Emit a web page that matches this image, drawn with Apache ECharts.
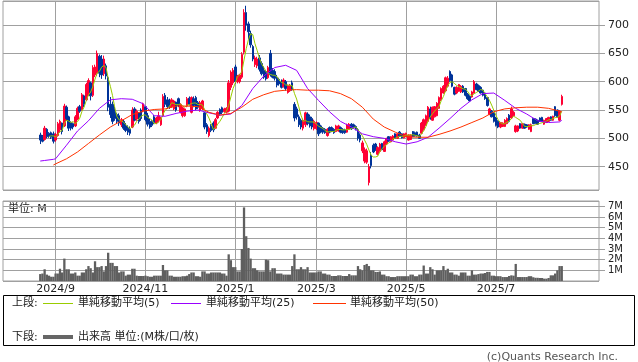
<!DOCTYPE html>
<html><head><meta charset="utf-8">
<script src="https://cdn.jsdelivr.net/npm/echarts@6/dist/echarts.min.js"></script>
<style>html,body{margin:0;padding:0;background:#fff}#c{width:638px;height:362px}</style>
</head><body><div id="c"></div>
<script>
// ---- data ----
const firstDay = '2024-08-22';
const holidays = ['2024-09-16','2024-09-23','2024-10-14','2024-11-04','2024-12-31','2025-01-01','2025-01-02','2025-01-03','2025-01-13','2025-02-11','2025-02-24','2025-03-20','2025-04-29','2025-05-05','2025-05-06','2025-07-21','2025-08-11'];
const tickLabels = ['2024/9','2024/11','2025/1','2025/3','2025/5','2025/7'];

const open = [
506,503,498,516,509,510,508,
497,505,515,527,522,555,538,528,526,522,
534,556,551,575,568,580,598,576,612,615,
645,640,614,628,607,560,560,548,542,540,
524,530,522,518,516,520,552,534,545,550,
548,556,540,530,530,538,527,532,524,540,
576,568,566,556,552,564,570,546,540,540,
557,571,546,570,572,563,549,552,545,524,
505,522,527,518,536,551,554,547,546,548,
590,598,626,600,600,608,652,722,702,685,
662,630,628,642,632,620,618,607,650,620,
618,608,604,600,591,600,581,584,598,560,
552,538,532,518,524,543,538,535,517,517,
527,522,518,516,505,519,519,516,512,513,
519,516,515,511,516,525,524,521,515,506,
478,460,458,422,470,488,490,472,477,491,
477,490,503,494,497,508,500,511,508,501,
503,497,498,512,510,511,506,509,515,523,
530,552,532,538,540,553,568,580,584,592,
618,612,590,580,583,582,592,588,578,574,
573,580,596,593,590,585,580,572,542,548,
545,536,530,520,521,521,526,541,536,540,
512,513,526,518,525,524,516,512,535,534,
532,536,537,525,528,530,538,532,556,550,
532,560];
const close = [
497,495,518,503,504,502,495,
507,526,530,512,557,535,518,518,520,538,
553,548,577,560,595,602,575,625,626,650,
615,612,640,610,555,542,530,535,530,527,
533,518,514,511,509,550,532,548,530,535,
561,533,525,520,523,528,536,540,536,574,
560,556,557,568,566,550,558,560,554,552,
570,560,572,558,552,555,563,566,520,512,
518,514,515,533,546,543,546,552,553,598,
617,620,600,610,612,648,722,700,688,665,
640,642,640,622,614,608,605,625,612,608,
606,594,596,590,603,588,593,594,586,536,
538,524,520,532,545,526,522,520,530,528,
508,511,511,510,516,511,513,510,522,522,
511,510,510,524,525,517,519,516,500,497,
492,480,478,450,452,476,480,484,490,480,
494,500,495,503,504,500,508,504,501,508,
509,506,506,503,504,504,500,527,533,540,
555,535,555,556,562,572,588,592,607,606,
602,592,578,590,595,592,582,576,570,566,
582,600,586,583,580,576,570,558,552,538,
530,523,520,528,527,532,535,530,552,546,
522,522,518,526,518,520,524,524,526,527,
525,530,530,532,535,537,532,539,540,538,
548,574];
const low = [
490,493,496,500,501,499,491,
494,503,510,507,520,531,513,514,516,520,
532,545,549,555,566,575,567,573,608,610,
608,605,610,604,548,536,525,531,526,522,
520,515,511,506,505,518,530,531,526,531,
546,530,521,517,520,525,525,528,522,538,
555,552,552,554,550,547,555,544,537,538,
555,558,544,555,550,552,547,550,516,508,
502,511,511,517,534,540,543,545,544,546,
585,594,596,597,597,605,648,690,675,660,
636,626,624,618,611,605,602,605,609,606,
602,590,593,588,590,584,579,582,584,530,
533,520,516,514,520,523,519,516,514,515,
504,509,508,508,503,509,511,508,511,512,
509,508,508,510,515,515,517,514,496,493,
474,456,455,417,447,474,478,470,475,479,
476,488,494,493,496,499,499,503,500,500,
502,496,497,502,503,503,499,508,514,522,
529,533,531,537,539,552,566,579,582,590,
600,590,576,578,582,580,580,574,568,565,
572,579,585,582,579,574,568,556,541,537,
528,521,518,518,520,520,525,528,534,539,
510,511,517,517,517,519,515,511,525,526,
524,529,529,524,527,529,531,531,538,537,
530,558];
const high = [
510,506,522,518,511,512,512,
510,529,533,528,561,558,540,530,528,541,
556,559,580,577,598,606,600,629,630,655,
648,647,646,632,610,573,565,556,545,544,
536,533,527,523,521,555,555,551,546,553,
563,557,545,535,532,541,538,547,538,578,
580,573,570,571,568,565,572,562,556,553,
573,574,574,574,575,566,566,568,546,527,
521,525,530,536,548,553,556,554,555,603,
620,624,630,612,614,652,728,734,706,690,
665,646,644,647,636,627,621,628,656,624,
622,612,607,604,606,603,595,596,602,564,
556,542,535,535,547,546,542,538,533,530,
528,524,520,518,518,521,521,518,524,524,
521,518,517,526,527,527,526,523,518,509,
496,484,482,455,476,491,492,486,492,492,
496,501,504,504,506,509,509,513,509,509,
510,507,507,513,512,512,508,529,535,542,
557,556,556,557,564,574,590,594,609,610,
620,614,591,592,596,594,594,589,580,576,
584,603,598,595,592,586,581,573,554,550,
546,538,532,529,528,534,537,543,556,548,
524,523,527,527,526,525,525,526,536,535,
533,537,538,533,536,538,539,540,557,551,
550,577];
const volume = [
0.65,0.7,1.1,0.6,0.5,0.4,0.4,
0.7,0.7,1.15,0.8,2.1,1.1,1.1,0.7,0.7,0.8,
0.5,0.5,0.8,0.8,1.1,1.4,1.2,0.8,1.85,1.3,
1.3,1.4,0.9,1.4,2.65,1.7,1.7,1.4,1.4,0.8,
0.9,0.9,0.5,0.6,0.6,1.15,1.15,0.5,0.47,0.47,
0.47,0.5,0.45,0.4,0.4,0.5,0.5,0.5,0.5,1.5,
1.0,1.0,0.5,0.5,0.4,0.4,0.4,0.4,0.45,0.45,
0.5,0.65,0.8,0.8,0.45,0.45,0.4,0.9,0.9,0.7,
0.7,0.8,0.8,0.8,0.8,0.8,0.7,0.7,0.5,2.5,
1.95,1.3,1.3,0.9,0.9,3.0,6.9,4.2,3.1,2.1,
1.2,1.2,1.0,0.9,0.9,0.9,2.0,1.95,0.9,1.2,
1.2,0.7,0.7,0.7,0.6,0.6,0.6,0.6,1.4,2.5,
1.1,1.1,1.3,1.1,1.1,1.3,0.8,0.8,0.8,0.8,
0.9,0.9,0.7,0.7,0.6,0.6,0.47,0.47,0.47,0.53,
0.53,0.47,0.47,0.47,0.65,0.53,0.53,0.53,1.4,1.1,
1.0,1.5,1.6,1.4,1.0,1.0,0.85,0.85,0.9,0.6,
0.6,0.45,0.45,0.37,0.37,0.37,0.45,0.45,0.45,0.45,
0.45,0.45,0.6,0.6,0.45,0.45,0.6,0.6,1.45,0.7,
0.7,1.3,1.1,0.6,1.0,1.0,1.0,1.4,1.0,1.15,
0.8,0.8,0.6,0.6,0.5,0.8,0.8,0.8,0.5,0.5,
1.0,0.6,0.6,0.65,0.7,0.7,0.75,0.85,0.85,0.5,
0.5,0.45,0.45,0.45,0.37,0.37,0.37,0.47,0.53,0.5,
1.6,0.37,0.37,0.37,0.37,0.37,0.45,0.45,0.35,0.3,
0.3,0.28,0.28,0.22,0.22,0.28,0.53,0.53,0.7,1.0,
1.4,1.4];
const maDays = [-7,-5,-1,0,5,10,15,20,25,30,35,40,45,50,55,60,65,70,75,80,85,90,95,100,105,110,115,120,125,130,135,140,145,150,155,160,165,170,175,180,185,190,195,200,205,210,215,220,225,230,231];
const ma25 = [460,461,463,464,488,513,531,553,568,570,569,561,540,539,544,548,550,545,541,543,558,588,610,625,629,620,588,567,547,530,520,508,503,500,494,490,494,502,518,535,553,568,579,580,567,553,543,531,528,529,532];
const ma50 = [null,null,453,455,464,476,491,506,520,531,542,548,551,552,557,557,556,546,541,544,555,569,577,583,585,586,585,585,584,579,570,555,534,520,511,503,502,502,507,513,520,528,536,547,552,554,555,555,553,548,547];

// ---- build ----
const N = close.length;
function tradingDays(start, n, hol) {
  const out = []; const d = new Date(start + 'T00:00:00Z');
  while (out.length < n) {
    const wd = d.getUTCDay(); const s = d.toISOString().slice(0, 10);
    if (wd !== 0 && wd !== 6 && hol.indexOf(s) < 0) out.push(s);
    d.setUTCDate(d.getUTCDate() + 1);
  }
  return out;
}
const dates = tradingDays(firstDay, N, holidays);
const PADL = 17, PADR = 17;
const cats = [];
for (let i = 0; i < PADL; i++) cats.push('l' + i);
dates.forEach(s => { const p = s.split('-'); cats.push(p[0] + '/' + (+p[1]) + '/' + (+p[2])); });
for (let i = 0; i < PADR; i++) cats.push('r' + i);
const labelIdx = {};
const seen = {};
cats.forEach((c, i) => {
  if (c.indexOf('/') < 0) return;
  const key = c.split('/').slice(0, 2).join('/');
  if (!seen[key]) { seen[key] = 1; if (tickLabels.indexOf(key) >= 0) labelIdx[i] = key; }
});
const showAt = (idx) => labelIdx[idx] !== undefined;
const dayZero = dates.indexOf('2024-09-02');
const pad = (arr) => { const a = []; for (let i = 0; i < PADL; i++) a.push('-'); arr.forEach(v => a.push(v)); for (let i = 0; i < PADR; i++) a.push('-'); return a; };

const candle = pad(open.map((o, i) => [o, close[i], low[i], high[i]]));
const ma5raw = close.map((c, i) => { if (i < 4) return '-'; let s = 0; for (let k = i - 4; k <= i; k++) s += close[k]; return +(s / 5).toFixed(2); });
const ma5 = pad(ma5raw);
function sparse(vals) {
  const a = cats.map(() => null);
  maDays.forEach((d, k) => { if (vals[k] != null) a[PADL + dayZero + d] = vals[k]; });
  return a;
}
const vol = pad(volume);

const FONT = '"DejaVu Sans","Noto Sans CJK JP",sans-serif';
const GRID = '#a0a0a0';
const chart = echarts.init(document.getElementById('c'), null, {renderer: 'canvas'});
const xCommon = {
  type: 'category', data: cats, boundaryGap: false,
  axisLine: {show: false}, axisTick: {show: false},
  splitLine: {show: true, interval: (i) => showAt(i), lineStyle: {color: GRID, width: 1}}
};
chart.setOption({
  animation: false,
  backgroundColor: '#fff',
  grid: [
    {left: 3, width: 596, top: 1, height: 189, show: true, borderColor: GRID, borderWidth: 1, outerBoundsMode: 'none', containLabel: false},
    {left: 3, width: 596, top: 201, height: 80, show: true, borderColor: GRID, borderWidth: 1, outerBoundsMode: 'none', containLabel: false}
  ],
  xAxis: [
    Object.assign({gridIndex: 0, axisLabel: {show: false}}, xCommon),
    Object.assign({gridIndex: 1, axisLabel: {show: true, interval: (i) => showAt(i), formatter: (v, i) => labelIdx[i] || '', color: '#222', fontFamily: FONT, fontSize: 11, margin: 3}}, xCommon)
  ],
  yAxis: [
    {gridIndex: 0, type: 'value', position: 'right', min: 408.9, max: 742.4, splitNumber: 5, scale: true,
     axisLine: {show: false}, axisTick: {show: true, length: 6, lineStyle: {color: GRID}},
     axisLabel: {color: '#222', fontFamily: FONT, fontSize: 11, margin: 9, showMinLabel: false, showMaxLabel: false},
     splitLine: {show: true, lineStyle: {color: GRID, width: 1}}},
    {gridIndex: 1, type: 'value', position: 'right', min: 0, max: 7.5, interval: 1,
     axisLine: {show: false}, axisTick: {show: true, length: 6, lineStyle: {color: GRID}},
     axisLabel: {color: '#222', fontFamily: FONT, fontSize: 10, margin: 9, showMinLabel: false, showMaxLabel: false, formatter: (v) => v + 'M'},
     splitLine: {show: true, lineStyle: {color: GRID, width: 1}}}
  ],
  series: [
    {type: 'candlestick', xAxisIndex: 0, yAxisIndex: 0, data: candle, barWidth: 2,
     itemStyle: {color: '#ff0033', color0: '#003399', borderColor: '#ff0033', borderColor0: '#003399', borderWidth: 1}},
    {type: 'line', xAxisIndex: 0, yAxisIndex: 0, data: ma5, showSymbol: false, symbol: 'none', lineStyle: {color: '#99cc00', width: 1}},
    {type: 'line', xAxisIndex: 0, yAxisIndex: 0, data: sparse(ma25), connectNulls: true, showSymbol: false, symbol: 'none', lineStyle: {color: '#9900ff', width: 1}},
    {type: 'line', xAxisIndex: 0, yAxisIndex: 0, data: sparse(ma50), connectNulls: true, showSymbol: false, symbol: 'none', lineStyle: {color: '#ff3300', width: 1}},
    {type: 'bar', xAxisIndex: 1, yAxisIndex: 1, data: vol, barWidth: 2.3, itemStyle: {color: '#5f5f5f'}}
  ],
  graphic: [
    {type: 'text', left: 8, top: 204, style: {text: '単位: M', font: '11px ' + FONT, fill: '#222'}},
    {type: 'rect', shape: {x: 3.5, y: 295.5, width: 631, height: 50}, style: {fill: 'none', stroke: '#000', lineWidth: 1}},
    {type: 'text', x: 12, y: 303, style: {text: '上段:', font: '11px ' + FONT, fill: '#222', verticalAlign: 'middle', textVerticalAlign: 'middle'}},
    {type: 'line', shape: {x1: 43, y1: 303.5, x2: 73, y2: 303.5}, style: {stroke: '#99cc00', lineWidth: 1}},
    {type: 'text', x: 78, y: 303, style: {text: '単純移動平均(5)', font: '11px ' + FONT, fill: '#222', verticalAlign: 'middle', textVerticalAlign: 'middle'}},
    {type: 'line', shape: {x1: 171, y1: 303.5, x2: 201, y2: 303.5}, style: {stroke: '#9900ff', lineWidth: 1}},
    {type: 'text', x: 206, y: 303, style: {text: '単純移動平均(25)', font: '11px ' + FONT, fill: '#222', verticalAlign: 'middle', textVerticalAlign: 'middle'}},
    {type: 'line', shape: {x1: 313, y1: 303.5, x2: 346, y2: 303.5}, style: {stroke: '#ff3300', lineWidth: 1}},
    {type: 'text', x: 350, y: 303, style: {text: '単純移動平均(50)', font: '11px ' + FONT, fill: '#222', verticalAlign: 'middle', textVerticalAlign: 'middle'}},
    {type: 'text', x: 12, y: 337, style: {text: '下段:', font: '11px ' + FONT, fill: '#222', verticalAlign: 'middle', textVerticalAlign: 'middle'}},
    {type: 'line', shape: {x1: 43, y1: 337, x2: 73, y2: 337}, style: {stroke: '#666666', lineWidth: 4}},
    {type: 'text', x: 78, y: 337, style: {text: '出来高 単位:(M株/口/枚)', font: '11px ' + FONT, fill: '#222', verticalAlign: 'middle', textVerticalAlign: 'middle'}},
    {type: 'text', x: 618, y: 357, style: {text: '(c)Quants Research Inc.', font: '11px ' + FONT, fill: '#555', align: 'right', textAlign: 'right', verticalAlign: 'middle', textVerticalAlign: 'middle'}}
  ]
});
</script>
</body></html>
